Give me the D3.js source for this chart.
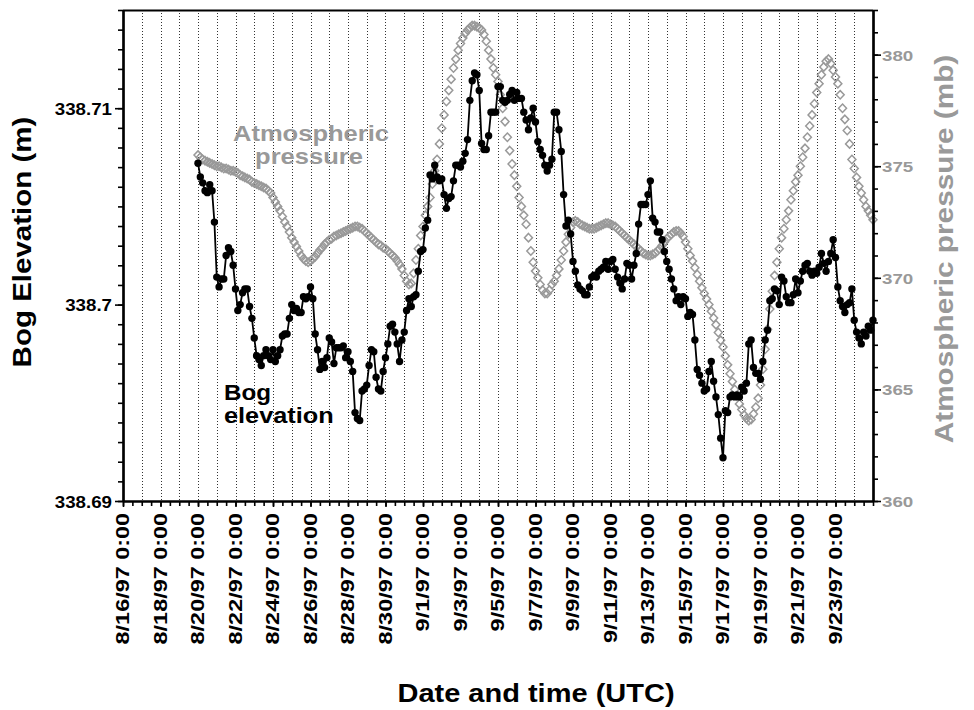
<!DOCTYPE html>
<html><head><meta charset="utf-8">
<script src="https://cdn.jsdelivr.net/npm/d3@7"></script>
<style>
body{margin:0;background:#fff}
svg{display:block}
text{font-family:"Liberation Sans",Arial,Helvetica,sans-serif;font-weight:bold}
</style>
</head><body>
<svg id="chart" width="974" height="710"></svg>
<script>
// ---------------- data ----------------
const axisStart = "1997-08-16T00:00:00Z";
const axisEnd = "1997-09-25T00:00:00Z";
const seriesStart = "1997-08-20T00:00:00Z";
const sampleStepHours = 3;

// Bog elevation (m), every 3 h from 8/20/97 0:00
const bogElevation = [
338.7072,338.7065,338.7062,338.7058,338.7057,338.7061,338.7058,338.7042,338.7014,338.7009,
338.7013,338.7013,338.7025,338.7029,338.7027,338.7020,338.7008,338.6997,338.7000,338.7006,
338.7008,338.7008,338.6999,338.6993,338.6983,338.6974,338.6972,338.6969,338.6974,338.6977,
338.6974,338.6972,338.6977,338.6971,338.6974,338.6977,338.6984,338.6985,338.6985,338.6993,
338.7000,338.6997,338.6998,338.6996,338.6996,338.7004,338.7003,338.7004,338.7009,338.7003,
338.6985,338.6977,338.6967,338.6971,338.6968,338.6973,338.6983,338.6981,338.6970,338.6978,
338.6978,338.6978,338.6979,338.6973,338.6976,338.6971,338.6966,338.6945,338.6942,338.6941,
338.6956,338.6957,338.6959,338.6969,338.6977,338.6976,338.6963,338.6957,338.6956,338.6966,
338.6973,338.6980,338.6989,338.6990,338.6986,338.6980,338.6971,338.6982,338.6986,338.6997,
338.7003,338.6999,338.7004,338.7005,338.7017,338.7027,338.7028,338.7039,338.7043,338.7066,
338.7064,338.7071,338.7065,338.7063,338.7064,338.7056,338.7049,338.7054,338.7055,338.7063,
338.7071,338.7071,338.7070,338.7073,338.7077,338.7084,338.7104,338.7114,338.7118,338.7117,
338.7109,338.7082,338.7079,338.7079,338.7086,338.7098,338.7098,338.7098,338.7111,338.7111,
338.7104,338.7103,338.7104,338.7107,338.7109,338.7104,338.7108,338.7105,338.7105,338.7098,
338.7094,338.7089,338.7095,338.7100,338.7093,338.7083,338.7079,338.7076,338.7071,338.7068,
338.7071,338.7074,338.7098,338.7098,338.7089,338.7078,338.7056,338.7040,338.7043,338.7036,
338.7022,338.7017,338.7010,338.7008,338.7007,338.7005,338.7005,338.7009,338.7014,338.7015,
338.7014,338.7017,338.7018,338.7019,338.7022,338.7018,338.7022,338.7023,338.7018,338.7014,
338.7011,338.7008,338.7013,338.7021,338.7020,338.7013,338.7020,338.7026,338.7041,338.7051,
338.7051,338.7051,338.7056,338.7063,338.7044,338.7042,338.7037,338.7037,338.7033,338.7027,
338.7022,338.7018,338.7013,338.7008,338.7002,338.7004,338.7000,338.7004,338.7003,338.6994,
338.6996,338.6995,338.6982,338.6967,338.6964,338.6960,338.6956,338.6957,338.6966,338.6971,
338.6961,338.6953,338.6944,338.6932,338.6922,338.6946,338.6945,338.6953,338.6954,338.6953,
338.6954,338.6953,338.6958,338.6956,338.6960,338.6980,338.6982,338.6968,338.6965,338.6965,
338.6962,338.6971,338.6982,338.6987,338.7002,338.7003,338.7008,338.7007,338.7000,338.7014,
338.7012,338.7004,338.7001,338.7001,338.7005,338.7013,338.7006,338.7012,338.7017,338.7020,
338.7021,338.7017,338.7015,338.7017,338.7016,338.7019,338.7026,338.7021,338.7017,338.7022,
338.7026,338.7033,338.7024,338.7009,338.7002,338.6999,338.6996,338.7000,338.7001,338.7008,
338.6992,338.6986,338.6983,338.6980,338.6986,338.6984,338.6989,338.6987,338.6992
];

// Atmospheric pressure (mb), every 3 h from 8/20/97 0:00
const atmPressure = [
375.5,375.4,375.3,375.25,375.2,375.15,375.1,375.05,
375.0,375.0,374.95,374.9,374.9,374.85,374.8,374.8,
374.75,374.7,374.6,374.55,374.5,374.45,374.4,374.3,
374.25,374.2,374.15,374.1,374.05,374.0,373.9,373.8,
373.6,373.4,373.2,373.0,372.75,372.5,372.3,372.05,
371.8,371.6,371.4,371.2,371.0,370.85,370.75,370.7,
370.75,370.85,370.95,371.1,371.25,371.35,371.5,371.6,
371.7,371.75,371.85,371.9,371.95,372.0,372.05,372.1,
372.15,372.2,372.25,372.3,372.3,372.25,372.2,372.1,
372.0,371.9,371.8,371.7,371.6,371.5,371.45,371.35,
371.3,371.2,371.1,371.0,370.9,370.75,370.6,370.4,
370.1,369.85,369.7,369.75,370.2,370.8,371.3,371.9,
372.3,372.8,373.2,373.6,374.2,374.8,375.3,376.0,
376.7,377.3,377.9,378.4,378.9,379.4,379.8,380.2,
380.5,380.75,380.95,381.1,381.2,381.3,381.3,381.25,
381.2,381.1,380.9,380.6,380.2,379.8,379.4,379.1,
378.8,378.2,377.6,377.0,376.3,375.7,375.1,374.6,
374.1,373.6,373.2,372.8,372.4,371.8,371.2,370.7,
370.3,370.0,369.7,369.45,369.3,369.3,369.45,369.7,
369.85,370.1,370.4,370.8,371.2,371.6,371.95,372.25,
372.5,372.55,372.5,372.4,372.35,372.3,372.25,372.2,
372.2,372.2,372.25,372.3,372.35,372.4,372.45,372.45,
372.4,372.35,372.3,372.2,372.1,372.0,371.9,371.8,
371.7,371.6,371.5,371.4,371.3,371.2,371.1,371.05,
371.0,371.0,371.05,371.1,371.2,371.3,371.45,371.6,
371.75,371.85,371.95,372.05,372.1,372.1,372.0,371.85,
371.6,371.3,371.0,370.75,370.45,370.15,369.85,369.55,
369.3,369.05,368.8,368.5,368.2,367.9,367.55,367.2,
366.9,366.5,366.1,365.7,365.35,365.0,364.7,364.35,
364.1,363.85,363.7,363.6,363.65,363.9,364.2,364.6,
365.2,365.9,366.8,367.7,368.6,369.4,370.1,370.7,
371.3,371.8,372.2,372.6,373.0,373.5,373.9,374.3,
374.6,375.0,375.4,375.8,376.3,376.8,377.3,377.8,
378.3,378.7,379.1,379.45,379.7,379.8,379.6,379.3,
379.0,378.7,378.2,377.6,377.1,376.6,376.0,375.3,
374.9,374.5,374.1,373.8,373.5,373.2,373.0,372.8,
372.6
];

const xTickLabels = ["8/16/97 0:00","8/18/97 0:00","8/20/97 0:00","8/22/97 0:00","8/24/97 0:00",
  "8/26/97 0:00","8/28/97 0:00","8/30/97 0:00","9/1/97 0:00","9/3/97 0:00","9/5/97 0:00",
  "9/7/97 0:00","9/9/97 0:00","9/11/97 0:00","9/13/97 0:00","9/15/97 0:00","9/17/97 0:00",
  "9/19/97 0:00","9/21/97 0:00","9/23/97 0:00"];
const elevTickValues = [338.69, 338.70, 338.71];
const elevTickLabels = ["338.69", "338.7", "338.71"];
const pressTickValues = [360, 365, 370, 375, 380];

// ---------------- layout ----------------
const L = 123, R = 873, T = 10, B = 501;
const GRAY = "#999999";
const svg = d3.select("#chart");

const parseLabel = s => { const [dp] = s.split(" "); const [m, d, y] = dp.split("/").map(Number); return new Date(Date.UTC(1900 + y, m - 1, d)); };
const xTickDates = xTickLabels.map(parseLabel);

const x = d3.scaleUtc().domain([new Date(axisStart), new Date(axisEnd)]).range([L, R]);
const yL = d3.scaleLinear().domain([338.69, 338.715]).range([B, T]);
const yR = d3.scaleLinear().domain([360, 382]).range([B, T]);

const t0 = new Date(seriesStart).getTime();
const timeAt = i => new Date(t0 + i * sampleStepHours * 3600e3);

function stretch(sel, f) {
  sel.each(function () {
    const w = this.getComputedTextLength();
    this.setAttribute("textLength", (w * f).toFixed(1));
    this.setAttribute("lengthAdjust", "spacingAndGlyphs");
  });
}

// gridlines every day
const days = d3.utcDay.range(d3.utcDay.offset(new Date(axisStart), 1), new Date(axisEnd));
svg.append("g").selectAll("line").data(days).join("line")
  .attr("x1", d => Math.round(x(d)) + 0.5).attr("x2", d => Math.round(x(d)) + 0.5)
  .attr("y1", T).attr("y2", B)
  .attr("stroke", "#333").attr("stroke-width", 1).attr("stroke-dasharray", "1,2");

// pressure diamonds
const pts = atmPressure.map((p, i) => [x(timeAt(i)), yR(p)]);
svg.append("g").selectAll("path").data(pts).join("path")
  .attr("d", d => `M${d[0]},${d[1] - 4.2}L${d[0] + 4},${d[1]}L${d[0]},${d[1] + 4.2}L${d[0] - 4},${d[1]}Z`)
  .attr("fill", "none").attr("stroke", GRAY).attr("stroke-width", 1.5);

// bog elevation line + dots
const bog = bogElevation.map((v, i) => [x(timeAt(i)), yL(v)]);
svg.append("path").datum(bog)
  .attr("d", d3.line())
  .attr("fill", "none").attr("stroke", "#000").attr("stroke-width", 1.8);
svg.append("g").selectAll("circle").data(bog).join("circle")
  .attr("cx", d => d[0]).attr("cy", d => d[1]).attr("r", 3.7).attr("fill", "#000");

// frame top line
svg.append("line").attr("x1", L).attr("x2", R).attr("y1", T + 0.5).attr("y2", T + 0.5)
  .attr("stroke", "#000").attr("stroke-width", 2);

// left axis
const elevMinor = d3.range(0, 26).map(i => +(338.69 + i * 0.001).toFixed(3));
const gL = svg.append("g").attr("transform", `translate(${L},0)`);
gL.call(d3.axisLeft(yL).tickValues(elevMinor).tickSize(5).tickSizeOuter(0).tickFormat(""));
gL.call(g => g.append("g").call(d3.axisLeft(yL).tickValues(elevTickValues).tickSize(8).tickSizeOuter(0)
  .tickFormat((d, i) => elevTickLabels[i])));
gL.selectAll(".domain").attr("stroke-width", 2.2);
gL.selectAll(".tick line").attr("stroke-width", 1.6);
gL.selectAll("text").attr("font-size", 17).attr("fill", "#000").attr("x", -11).attr("dy", "0.36em")
  .style("font-family", '"Liberation Sans",Arial,sans-serif').style("font-weight", "bold").call(stretch, 1.1);

// right axis
const pressMinor = d3.range(360, 383, 1);
const gR = svg.append("g").attr("transform", `translate(${R},0)`);
gR.call(d3.axisRight(yR).tickValues(pressMinor).tickSize(5).tickSizeOuter(0).tickFormat(""));
gR.call(g => g.append("g").call(d3.axisRight(yR).tickValues(pressTickValues).tickSize(8).tickSizeOuter(0)));
gR.selectAll(".domain").attr("stroke-width", 2.2);
gR.selectAll(".tick line").attr("stroke-width", 1.6);
gR.selectAll("text").attr("font-size", 15).attr("fill", GRAY).attr("x", 9).attr("dy", "0.36em")
  .style("font-family", '"Liberation Sans",Arial,sans-serif').style("font-weight", "bold").call(stretch, 1.25);

// bottom axis
const halfDays = d3.utcHour.every(12).range(new Date(axisStart), d3.utcHour.offset(new Date(axisEnd), 1));
const gB = svg.append("g").attr("transform", `translate(0,${B})`);
gB.call(d3.axisBottom(x).tickValues(halfDays).tickSize(5).tickSizeOuter(0).tickFormat(""));
gB.call(g => g.append("g").call(d3.axisBottom(x).tickValues(xTickDates).tickSize(6).tickSizeOuter(0)
  .tickFormat((d, i) => xTickLabels[i])));
gB.selectAll(".domain").attr("stroke-width", 2.2);
gB.selectAll(".tick line").attr("stroke-width", 1.6);
gB.selectAll("text").attr("font-size", 18).attr("fill", "#000")
  .attr("transform", "rotate(-90)").attr("text-anchor", "end")
  .attr("x", -12).attr("y", 5.5).attr("dy", 0)
  .style("font-family", '"Liberation Sans",Arial,sans-serif').style("font-weight", "bold").call(stretch, 1.3);

// axis titles
svg.append("text").attr("transform", "translate(31,242) rotate(-90)").attr("text-anchor", "middle")
  .attr("font-size", 25).attr("fill", "#000").text("Bog Elevation (m)").call(stretch, 1.18);
svg.append("text").attr("transform", "translate(953,249) rotate(-90)").attr("text-anchor", "middle")
  .attr("font-size", 25).attr("fill", GRAY).text("Atmospheric pressure (mb)").call(stretch, 1.19);
svg.append("text").attr("x", 536).attr("y", 702).attr("text-anchor", "middle")
  .attr("font-size", 25).attr("fill", "#000").text("Date and time (UTC)").call(stretch, 1.16);

// in-plot labels
svg.append("text").attr("x", 311).attr("y", 141).attr("text-anchor", "middle")
  .attr("font-size", 22).attr("fill", GRAY).text("Atmospheric").call(stretch, 1.16);
svg.append("text").attr("x", 309).attr("y", 164).attr("text-anchor", "middle")
  .attr("font-size", 22).attr("fill", GRAY).text("pressure").call(stretch, 1.16);
svg.append("text").attr("x", 224).attr("y", 400).attr("text-anchor", "start")
  .attr("font-size", 22).attr("fill", "#000").text("Bog").call(stretch, 1.1);
svg.append("text").attr("x", 224).attr("y", 423).attr("text-anchor", "start")
  .attr("font-size", 22).attr("fill", "#000").text("elevation").call(stretch, 1.15);
</script>
</body></html>
